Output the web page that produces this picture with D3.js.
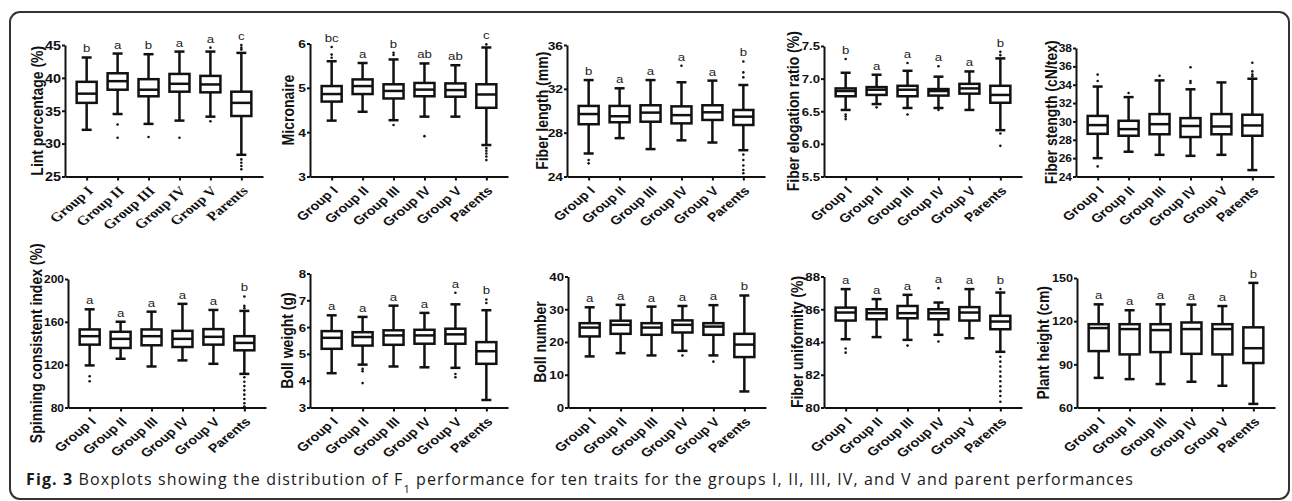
<!DOCTYPE html>
<html>
<head>
<meta charset="utf-8">
<script src="https://cdn.jsdelivr.net/npm/d3@7"></script>
<style>
  body { margin: 0; background: #fff; }
  svg { display: block; }
</style>
</head>
<body>
<div id="chart"></div>
<script>
// groups shared by every panel
const groups = ["Group I", "Group II", "Group III", "Group IV", "Group V", "Parents"];

// each stats row: [min, q1, median, q3, max]
const lintStats = [[32.1, 36.2, 37.6, 39.4, 43.1], [34.5, 38.2, 39.5, 40.7, 43.7], [33.0, 37.2, 38.2, 39.8, 43.6], [33.5, 37.9, 39.1, 40.6, 44.0], [34.1, 37.8, 39.0, 40.3, 44.0], [28.3, 34.2, 36.2, 37.9, 43.8]];
const lintOut = [[], [32.9, 30.9], [31.0], [30.9], [44.6, 33.4], [45.0, 44.6, 44.3, 27.6, 27.1, 26.6, 26.1]];
const lintLetters = ["b", "a", "b", "a", "a", "c"];
const lintTicks = [25, 30, 35, 40, 45];

const micStats = [[4.26, 4.69, 4.86, 5.04, 5.6], [4.46, 4.86, 5.04, 5.19, 5.56], [4.27, 4.76, 4.93, 5.08, 5.64], [4.35, 4.81, 4.96, 5.11, 5.55], [4.35, 4.80, 4.95, 5.10, 5.51], [3.71, 4.55, 4.85, 5.08, 5.91]];
const micOut = [[5.92, 5.75, 5.68], [], [5.79, 5.74, 4.16], [3.91], [], [5.98, 3.64, 3.58, 3.52, 3.45, 3.37]];
const micLetters = ["bc", "a", "b", "ab", "ab", "c"];
const micTicks = [3, 4, 5, 6];

const lenStats = [[26.1, 28.77, 29.7, 30.44, 32.8], [27.5, 28.95, 29.5, 30.44, 32.05], [26.5, 29.0, 29.83, 30.5, 32.8], [27.3, 28.85, 29.6, 30.4, 32.6], [27.1, 29.16, 29.86, 30.5, 32.75], [26.4, 28.7, 29.46, 30.07, 32.35]];
const lenOut = [[25.5, 25.2], [], [], [34.1], [], [34.5, 33.5, 33.05, 26.0, 25.5, 25.0, 24.6, 24.3]];
const lenLetters = ["b", "a", "a", "a", "a", "b"];
const lenTicks = [24, 28, 32, 36];

const elgStats = [[6.52, 6.73, 6.81, 6.85, 7.09], [6.61, 6.75, 6.83, 6.87, 7.06], [6.55, 6.73, 6.83, 6.89, 7.12], [6.55, 6.74, 6.81, 6.84, 7.03], [6.52, 6.77, 6.85, 6.92, 7.11], [6.21, 6.63, 6.75, 6.89, 7.31]];
const elgOut = [[7.30, 6.45, 6.42, 6.38], [6.56], [7.24, 6.45], [7.19, 6.52], [], [7.41, 7.36, 6.16, 5.97]];
const elgLetters = ["b", "a", "a", "a", "a", "b"];
const elgTicks = [5.5, 6.0, 6.5, 7.0, 7.5];

const strStats = [[26.0, 28.65, 29.6, 30.6, 33.8], [26.7, 28.44, 29.16, 30.07, 32.65], [26.36, 28.6, 29.7, 30.8, 34.47], [26.25, 28.3, 29.5, 30.36, 33.5], [26.36, 28.6, 29.45, 30.8, 34.25], [24.7, 28.44, 29.56, 30.73, 34.65]];
const strOut = [[35.1, 34.4, 25.1], [33.1], [34.98], [35.9, 34.4, 34.2], [], [36.4, 35.45, 35.1, 34.9]];
const strLetters = ["", "", "", "", "", ""];
const strTicks = [24, 26, 28, 30, 32, 34, 36, 38];

const spiStats = [[119.3, 138.7, 146.6, 152.9, 171.7], [125.5, 135.6, 144.1, 150.7, 160.1], [118.3, 138.1, 146.6, 152.9, 169.5], [124.0, 136.5, 144.1, 151.6, 176.8], [120.8, 138.7, 146.0, 153.2, 171.1], [111.4, 133.4, 140.3, 146.6, 170.2]];
const spiOut = [[109.2, 104.5], [], [], [], [], [183.7, 174.9, 172.7, 108.3, 104, 100, 96, 92, 88, 84, 81]];
const spiLetters = ["a", "a", "a", "a", "a", "b"];
const spiTicks = [80, 120, 160, 200];

const bwStats = [[4.28, 5.19, 5.6, 5.85, 6.44], [4.6, 5.31, 5.63, 5.81, 6.38], [4.53, 5.34, 5.69, 5.88, 6.8], [4.5, 5.38, 5.69, 5.9, 6.53], [4.48, 5.38, 5.73, 5.94, 6.85], [3.28, 4.63, 5.1, 5.44, 6.63]];
const bwOut = [[], [4.44, 4.35, 3.91], [], [], [7.28, 4.25, 4.13], [7.03, 6.9]];
const bwLetters = ["a", "a", "a", "a", "a", "b"];
const bwTicks = [3, 4, 5, 6, 7, 8];

const bnStats = [[15.6, 21.7, 24.4, 25.75, 30.6], [16.6, 22.5, 25.25, 26.5, 31.35], [15.9, 22.2, 24.4, 25.75, 30.8], [17.3, 22.9, 25.25, 26.6, 31.0], [15.9, 22.2, 24.7, 25.75, 31.25], [4.9, 15.4, 19.2, 22.5, 34.2]];
const bnOut = [[], [], [], [15.9], [14.0], []];
const bnLetters = ["a", "a", "a", "a", "a", "b"];
const bnTicks = [0, 10, 20, 30, 40];

const uniStats = [[84.17, 85.31, 85.8, 86.1, 87.23], [84.3, 85.39, 85.76, 86.0, 86.62], [84.13, 85.45, 85.76, 86.2, 86.88], [84.44, 85.39, 85.76, 86.0, 86.41], [84.23, 85.31, 85.8, 86.13, 87.23], [83.4, 84.78, 85.25, 85.6, 87.02]];
const uniOut = [[83.6, 83.35], [], [83.78], [87.29, 84.03], [], [87.23, 83.1, 82.8, 82.5, 82.2, 81.9, 81.6, 81.3, 81.0, 80.7, 80.35]];
const uniLetters = ["a", "a", "a", "a", "a", "b"];
const uniTicks = [80, 82, 84, 86, 88];

const phStats = [[80.6, 99.2, 115.2, 117.9, 131.7], [79.7, 96.9, 114.5, 117.9, 127.6], [76.3, 98.5, 113.8, 117.9, 131.7], [77.9, 97.3, 114.5, 119.1, 131.5], [75.1, 96.9, 114.5, 117.9, 130.5], [62.5, 90.9, 101.2, 115.7, 146.6]];
const phOut = [[], [], [], [], [], []];
const phLetters = ["a", "a", "a", "a", "a", "b"];
const phTicks = [60, 90, 120, 150];

const W = 1292, H = 501;
const SX = 1.2; // the figure is stretched horizontally, text too
const ink = "#111";
const sans = "'Liberation Sans', Arial, sans-serif";

const panels = [
  { title: "Lint percentage (%)", stats: lintStats, out: lintOut, letters: lintLetters, ticks: lintTicks, x0: 65, top: 45, bottom: 176.5, lx: 37, serif: true, fmt: "d", tf: 12 },
  { title: "Micronaire", stats: micStats, out: micOut, letters: micLetters, ticks: micTicks, x0: 310, top: 43.5, bottom: 176.5, lx: 288, fmt: "d", tf: 11.5 },
  { title: "Fiber length (mm)", stats: lenStats, out: lenOut, letters: lenLetters, ticks: lenTicks, x0: 567, top: 45, bottom: 176.5, lx: 542, fmt: "d", tf: 11.5 },
  { title: "Fiber elogation ratio (%)", stats: elgStats, out: elgOut, letters: elgLetters, ticks: elgTicks, x0: 824, top: 46, bottom: 176.5, lx: 793, fmt: ".1f", tf: 11 },
  { title: "Fiber stength (cN/tex)", stats: strStats, out: strOut, letters: strLetters, ticks: strTicks, x0: 1076, top: 48, bottom: 176.5, lx: 1051, fmt: "d", tf: 10 },
  { title: "Spinning consistent index (%)", stats: spiStats, out: spiOut, letters: spiLetters, ticks: spiTicks, x0: 68, top: 279, bottom: 407.5, lx: 36, fmt: "d", tf: 10 },
  { title: "Boll weight (g)", stats: bwStats, out: bwOut, letters: bwLetters, ticks: bwTicks, x0: 310, top: 273.5, bottom: 407.5, lx: 287, fmt: "d", tf: 11 },
  { title: "Boll number", stats: bnStats, out: bnOut, letters: bnLetters, ticks: bnTicks, x0: 568, top: 276.5, bottom: 407.5, lx: 540, fmt: "d", tf: 11 },
  { title: "Fiber uniformity (%)", stats: uniStats, out: uniOut, letters: uniLetters, ticks: uniTicks, x0: 824, top: 276.5, bottom: 407.5, lx: 797, fmt: "d", tf: 11 },
  { title: "Plant height (cm)", stats: phStats, out: phOut, letters: phLetters, ticks: phTicks, x0: 1077, top: 278, bottom: 407.5, lx: 1043, fmt: "d", tf: 10.5 }
];

const svg = d3.select("#chart").append("svg")
  .attr("width", W)
  .attr("height", H);

svg.append("rect").attr("width", W).attr("height", H).attr("fill", "#fff");

// rounded frame around the figure
svg.append("rect")
  .attr("x", 10).attr("y", 12)
  .attr("width", 1279).attr("height", 487)
  .attr("rx", 10)
  .attr("fill", "none")
  .attr("stroke", "#333")
  .attr("stroke-width", 2);

function drawPanel(p) {
  const x = d3.scalePoint().domain(groups).range([p.x0, p.x0 + 198]).padding(0.7);
  const y = d3.scaleLinear().domain(d3.extent(p.ticks)).range([p.bottom, p.top]);
  const g = svg.append("g");
  const boxW = 20, capW = 10;

  // y axis
  const ya = g.append("g")
    .attr("transform", `translate(${p.x0},0)`)
    .call(d3.axisLeft(y).tickValues(p.ticks).tickSize(3).tickSizeOuter(0).tickFormat(d3.format(p.fmt)));
  // x axis
  const xa = g.append("g")
    .attr("transform", `translate(0,${p.bottom})`)
    .call(d3.axisBottom(x).tickSize(4).tickSizeOuter(0));

  [ya, xa].forEach(a => {
    a.select(".domain").attr("stroke", ink).attr("stroke-width", 2);
    a.selectAll(".tick line").attr("stroke", ink).attr("stroke-width", 2);
  });

  ya.selectAll(".tick text")
    .attr("x", null).attr("dy", "0.36em")
    .attr("transform", `translate(-4,0) scale(${SX},1)`)
    .style("font-family", sans)
    .style("font-weight", "bold")
    .style("font-size", p.tf + "px")
    .attr("fill", ink);

  xa.selectAll(".tick text")
    .attr("y", null).attr("dy", "0.35em")
    .attr("text-anchor", "end")
    .attr("transform", `translate(3,12) scale(${SX},1) rotate(-45)`)
    .style("font-family", p.serif ? "'Liberation Serif', 'Times New Roman', serif" : sans)
    .style("font-weight", "bold")
    .style("font-size", p.serif ? "13px" : "12px")
    .attr("fill", ink);

  // y label
  g.append("text")
    .attr("transform", `translate(${p.lx},${(p.top + p.bottom) / 2}) scale(${SX},1) rotate(-90)`)
    .attr("text-anchor", "middle")
    .attr("dy", "0.35em")
    .style("font-family", sans)
    .style("font-weight", "bold")
    .style("font-size", "14px")
    .attr("fill", ink)
    .text(p.title);

  const rows = groups.map((name, i) => ({ name, s: p.stats[i], out: p.out[i], letter: p.letters[i] }));

  const box = g.selectAll(".box").data(rows).enter().append("g")
    .attr("class", "box")
    .attr("transform", d => `translate(${x(d.name)},0)`);

  const line = sel => sel.attr("stroke", ink).attr("stroke-width", 2.5).attr("fill", "none");

  // whiskers
  box.append("line").attr("x1", 0).attr("x2", 0)
    .attr("y1", d => y(d.s[0])).attr("y2", d => y(d.s[1])).call(line);
  box.append("line").attr("x1", 0).attr("x2", 0)
    .attr("y1", d => y(d.s[3])).attr("y2", d => y(d.s[4])).call(line);
  box.append("line").attr("x1", -capW / 2).attr("x2", capW / 2)
    .attr("y1", d => y(d.s[0])).attr("y2", d => y(d.s[0])).call(line);
  box.append("line").attr("x1", -capW / 2).attr("x2", capW / 2)
    .attr("y1", d => y(d.s[4])).attr("y2", d => y(d.s[4])).call(line);

  // box and median
  box.append("rect")
    .attr("x", -boxW / 2).attr("width", boxW)
    .attr("y", d => y(d.s[3]))
    .attr("height", d => y(d.s[1]) - y(d.s[3]))
    .call(line).attr("fill", "#fff");
  box.append("line").attr("x1", -boxW / 2).attr("x2", boxW / 2)
    .attr("y1", d => y(d.s[2])).attr("y2", d => y(d.s[2])).call(line);

  // outliers
  box.selectAll(".out").data(d => d.out).enter().append("circle")
    .attr("class", "out")
    .attr("cx", 0).attr("cy", v => y(v)).attr("r", 1.3)
    .attr("fill", ink);

  // significance letters
  box.append("text")
    .attr("transform", d => `translate(0,${y(d3.max([d.s[4], ...d.out])) - 5}) scale(${SX},1)`)
    .attr("text-anchor", "middle")
    .style("font-family", sans)
    .style("font-size", "11px")
    .attr("fill", "#222")
    .text(d => d.letter);
}

panels.forEach(drawPanel);

// caption
const cap = svg.append("text")
  .attr("x", 26).attr("y", 485)
  .style("font-family", "'Open Sans', 'Noto Sans', sans-serif")
  .style("font-size", "16px")
  .attr("fill", "#1a1a1a");
cap.append("tspan").style("font-weight", "bold").text("Fig. 3");
cap.append("tspan").text(" Boxplots showing the distribution of F");
cap.append("tspan").attr("baseline-shift", "sub").style("font-size", "11px").text("1");
cap.append("tspan").text(" performance for ten traits for the groups I, II, III, IV, and V and parent performances");

// spread the caption to the width it has in the figure
const capW = cap.node().getBBox().width;
const capChars = cap.text().length;
cap.style("letter-spacing", ((1108 - capW) / capChars) + "px");
</script>
</body>
</html>
